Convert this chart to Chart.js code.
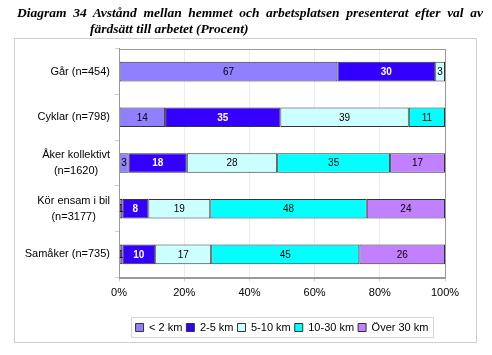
<!DOCTYPE html>
<html><head><meta charset="utf-8">
<script src="https://cdn.jsdelivr.net/npm/chart.js@4"></script>
<style>
html,body{margin:0;padding:0;background:#fff;}
#wrap{position:relative;width:492px;height:355px;}
#c{position:absolute;left:0;top:0;}
.t{position:absolute;font-family:"Liberation Serif","Times New Roman",serif;font-weight:bold;font-style:italic;font-size:13.5px;line-height:16px;color:#000;white-space:nowrap;}
#t1{left:17px;top:5px;width:466px;text-align:justify;text-align-last:justify;white-space:normal;}
#t2{left:90px;top:21px;}
</style></head>
<body><div id="wrap">
<canvas id="c" width="492" height="355"></canvas>
<div class="t" id="t1">Diagram 34 Avstånd mellan hemmet och arbetsplatsen presenterat efter val av</div>
<div class="t" id="t2">färdsätt till arbetet (Procent)</div>
</div>
<script>
const categories = ['Går (n=454)', 'Cyklar (n=798)', ['Åker kollektivt','(n=1620)'], ['Kör ensam i bil','(n=3177)'], 'Samåker (n=735)'];
const seriesNames = ['< 2 km', '2-5 km', '5-10 km', '10-30 km', 'Över 30 km'];
const under2km = [67, 14, 3, 1, 1];
const km2to5 = [30, 35, 18, 8, 10];
const km5to10 = [3, 39, 28, 19, 17];
const km10to30 = [0, 11, 35, 48, 45];
const over30km = [0, 0, 17, 24, 26];
const xTicks = [0, 20, 40, 60, 80, 100];

const series = [under2km, km2to5, km5to10, km10to30, over30km];
const colors = ['#9080ff', '#3300ff', '#ccffff', '#00ffff', '#c080ff'];
const totals = categories.map((_, i) => series.reduce((s, a) => s + a[i], 0));

const datasets = series.map((vals, k) => ({
  label: seriesNames[k],
  raw: vals,
  data: vals.map((v, i) => v / totals[i] * 100),
  backgroundColor: colors[k],
  borderColor: '#333',
  borderWidth: 1,
  borderSkipped: false,
  barPercentage: 0.43,
  categoryPercentage: 1
}));

const framePlugin = {
  id: 'frame',
  beforeDraw(chart) {
    const ctx = chart.ctx;
    ctx.save();
    ctx.fillStyle = '#fff';
    ctx.fillRect(0, 0, chart.width, chart.height);
    ctx.strokeStyle = '#cfcfcf';
    ctx.lineWidth = 1;
    ctx.strokeRect(14.5, 38.5, 462, 304);
    ctx.restore();
  },
  afterDraw(chart) {
    const ctx = chart.ctx;
    const a = chart.chartArea;
    ctx.save();
    ctx.strokeStyle = '#999';
    ctx.lineWidth = 1;
    ctx.strokeRect(Math.round(a.left) + 0.5, Math.round(a.top) + 0.5, Math.round(a.right - a.left), Math.round(a.bottom - a.top));
    // y category labels
    const ys = chart.scales.y;
    ctx.fillStyle = '#000';
    ctx.font = '11px "Liberation Sans", Arial, sans-serif';
    ctx.textBaseline = 'middle';
    categories.forEach((lab, i) => {
      const y = ys.getPixelForTick(i);
      const right = 110;
      if (Array.isArray(lab)) {
        const widths = lab.map(l => ctx.measureText(l).width);
        const maxW = Math.max(...widths);
        const cx = right - maxW / 2;
        const lh = 15.5;
        lab.forEach((l, j) => {
          ctx.textAlign = 'center';
          ctx.fillText(l, cx, y + (j - (lab.length - 1) / 2) * lh);
        });
      } else {
        ctx.textAlign = 'right';
        ctx.fillText(lab, right, y);
      }
    });
    // legend border
    const lg = chart.legend;
    if (lg && lg.legendHitBoxes && lg.legendHitBoxes.length) {
      const hb = lg.legendHitBoxes;
      const l = Math.min(...hb.map(h => h.left)) - 5;
      const r = Math.max(...hb.map(h => h.left + h.width)) + 4;
      const t = Math.min(...hb.map(h => h.top)) - 5;
      const b = Math.max(...hb.map(h => h.top + h.height)) + 4;
      ctx.strokeStyle = '#d6d6d6';
      ctx.strokeRect(Math.round(l) + 0.5, Math.round(t) + 0.5, Math.round(r - l), Math.round(b - t));
    }
    ctx.restore();
  },
  afterDatasetsDraw(chart) {
    const ctx = chart.ctx;
    ctx.save();
    ctx.textAlign = 'center';
    ctx.textBaseline = 'middle';
    chart.data.datasets.forEach((ds, k) => {
      const meta = chart.getDatasetMeta(k);
      meta.data.forEach((el, i) => {
        const v = ds.raw[i];
        if (!v) return;
        const x = (el.x + el.base) / 2;
        if (k === 1) {
          ctx.fillStyle = '#fff';
          ctx.font = 'bold 10px "Liberation Sans", Arial, sans-serif';
        } else {
          ctx.fillStyle = '#000';
          ctx.font = '10px "Liberation Sans", Arial, sans-serif';
        }
        ctx.fillText(String(v), x, el.y + 0.5);
      });
    });
    ctx.restore();
  }
};

new Chart(document.getElementById('c'), {
  type: 'bar',
  data: { labels: categories, datasets },
  options: {
    indexAxis: 'y',
    responsive: false,
    animation: false,
    devicePixelRatio: 1,
    layout: { padding: { top: 48.7, right: 47, bottom: 12, left: 0 } },
    scales: {
      x: {
        stacked: true,
        min: 0, max: 100,
        afterBuildTicks(scale) { scale.ticks = xTicks.map(v => ({ value: v })); },
        afterFit(scale) { scale.height = 40.7; },
        ticks: {
          callback: v => v + '%',
          color: '#000',
          font: { family: '"Liberation Sans", Arial, sans-serif', size: 11 },
          padding: 5,
          maxRotation: 0
        },
        grid: { color: '#ececec', tickColor: '#cfcfcf', tickLength: 4 },
        border: { color: '#999' }
      },
      y: {
        stacked: true,
        afterFit(scale) { scale.width = 119; },
        ticks: { display: false },
        grid: { drawOnChartArea: false, color: '#d0d0d0', tickLength: 4, offset: true },
        border: { color: '#999' }
      }
    },
    plugins: {
      legend: {
        position: 'bottom',
        fullSize: false,
        labels: {
          boxWidth: 8, boxHeight: 8, padding: 4,
          color: '#000',
          font: { family: '"Liberation Sans", Arial, sans-serif', size: 11 },
          generateLabels(chart) {
            return chart.data.datasets.map((d, i) => ({
              text: d.label, fillStyle: d.backgroundColor, strokeStyle: '#333', lineWidth: 1, datasetIndex: i, hidden: false
            }));
          }
        }
      },
      tooltip: { enabled: false },
      title: { display: false }
    }
  },
  plugins: [framePlugin]
});
</script>
</body></html>
